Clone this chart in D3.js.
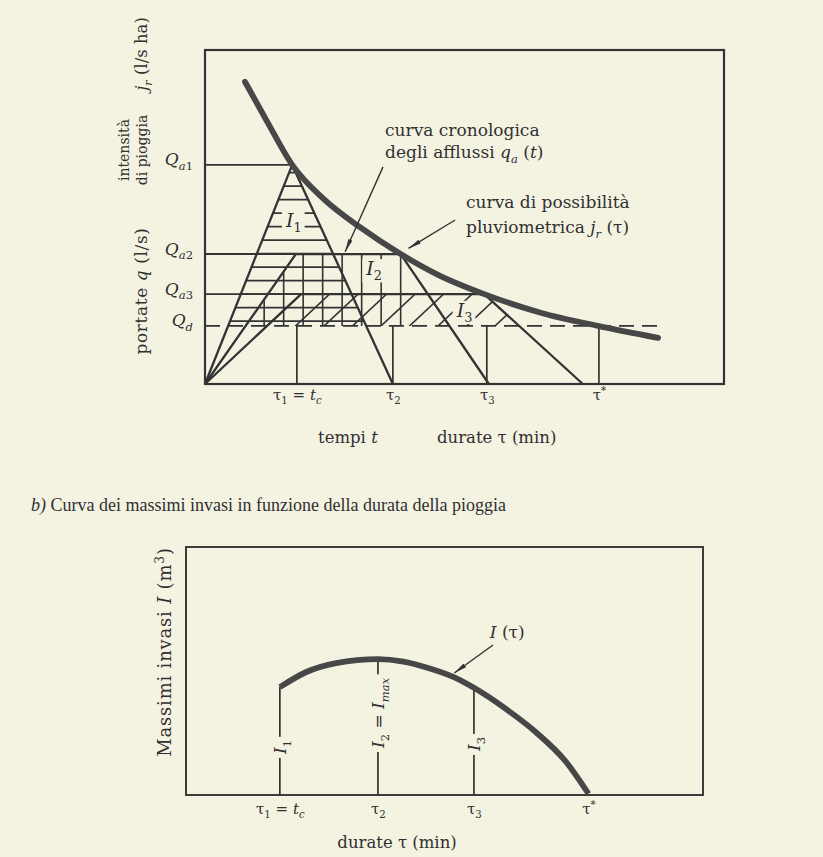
<!DOCTYPE html>
<html>
<head>
<meta charset="utf-8">
<script src="https://cdn.jsdelivr.net/npm/d3@7"></script>
<style>
  body { margin: 0; background: #f4f3e2; }
  svg text { font-family: "DejaVu Serif", serif; fill: #303030; }
</style>
</head>
<body>
<script>
// ---- data (durations in min, flows / volumes in arbitrary units) ----
var tauLabels = ["τ_{1} = *t*_{*c*}", "τ_{2}", "τ_{3}", "τ^{\\*}"];
var tauValues = [17.7, 36.2, 54.3, 75.9];

var qLabels = ["*Q*_{*a*1}", "*Q*_{*a*2}", "*Q*_{*a*3}", "*Q*_{*d*}"];
var qValues = [65.6, 38.9, 26.9, 17.4];

// curva di possibilità pluviometrica j_r(τ)
var rainCurve = [[7.7, 90.5], [12, 78.5], [16.8, 65.6], [23, 55.2], [30, 46.8], [37.7, 38.9],
                 [45, 32.6], [53.8, 26.9], [65, 21.2], [75.7, 17.4], [87.3, 13.8]];

// idrogrammi di afflusso q_a(t) per le durate τ1, τ2, τ3
var hydro1 = [[0, 0], [16.8, 65.6], [36.2, 0]];
var hydro2 = [[0, 0], [17.5, 38.9], [37.7, 38.9], [54.7, 0]];
var hydro3 = [[0, 0], [18.5, 26.9], [53.8, 26.9], [72.8, 0]];

// curva dei massimi invasi I(τ)
var volumeCurve = [[17.7, 43.5], [22.7, 49.6], [28.3, 53.2], [36.2, 54.8], [41, 53.8], [46, 51.0],
                   [50.4, 47.6], [54.3, 43.2], [59.8, 35.5], [66, 25.3], [71.5, 13.8], [75.9, 0.5]];
var volumeAtTau = [43.5, 54.8, 43.2];
var volumeLabels = ["*I*_{1}", "*I*_{2} = *I*_{*max*}", "*I*_{3}"];

var ink = "#333333";
var bg = "#f4f3e2";

var svg = d3.select("body").append("svg").attr("width", 823).attr("height", 857);
svg.append("rect").attr("width", 823).attr("height", 857).attr("fill", bg);
var defs = svg.append("defs");
defs.append("marker")
    .attr("id", "arrow")
    .attr("viewBox", "0 0 13 6")
    .attr("refX", 13).attr("refY", 3)
    .attr("markerWidth", 13).attr("markerHeight", 6)
    .attr("markerUnits", "userSpaceOnUse")
    .attr("orient", "auto")
  .append("path")
    .attr("d", "M0,0.8L13,3L0,5.2Z")
    .attr("fill", ink);

// tiny markup: *italic*, _{sub}, ^{sup}, \x literal
function rich(sel, str, size) {
  var segs = [], it = false, shift = 0, buf = "";
  function push() { if (buf) segs.push({t: buf, it: it, shift: shift}); buf = ""; }
  for (var i = 0; i < str.length; i++) {
    var c = str[i];
    if (c === "\\") { buf += str[++i]; }
    else if (c === "*") { push(); it = !it; }
    else if ((c === "_" || c === "^") && str[i + 1] === "{") { push(); shift = c === "_" ? 1 : -1; i++; }
    else if (c === "}" && shift) { push(); shift = 0; }
    else buf += c;
  }
  push();
  var cur = 0;
  segs.forEach(function(s) {
    var target = s.shift > 0 ? size * 0.28 : s.shift < 0 ? -size * 0.4 : 0;
    sel.append("tspan").text(s.t)
       .attr("dy", target - cur)
       .attr("font-size", s.shift ? size * 0.68 : size)
       .attr("font-style", s.it ? "italic" : "normal");
    cur = target;
  });
  sel.attr("font-size", size);
  return sel;
}

// put a background-coloured patch behind a label so the hatching is broken around it
function knockout(textSel, pad) {
  var b = textSel.node().getBBox();
  d3.select(textSel.node().parentNode).insert("rect", function() { return textSel.node(); })
    .attr("x", b.x - pad).attr("y", b.y + 2).attr("width", b.width + 2 * pad).attr("height", b.height - 3)
    .attr("fill", bg);
}

// =================== a) top chart ===================
var x = d3.scaleLinear().domain([0, 100]).range([205, 724]);
var y = d3.scaleLinear().domain([0, 100]).range([384, 50]);
var gTop = svg.append("g");

function pts(arr) { return arr.map(function(p) { return [x(p[0]), y(p[1])]; }).join(" "); }

defs.append("clipPath").attr("id", "band")
  .append("rect").attr("x", x(0)).attr("y", y(100)).attr("width", x(100) - x(0)).attr("height", y(qValues[3]) - y(100));
[hydro1, hydro2, hydro3].forEach(function(h, i) {
  defs.append("clipPath").attr("id", "hc" + i).append("polygon").attr("points", pts(h));
});

function hatch(i) {
  return gTop.append("g").attr("clip-path", "url(#band)")
            .append("g").attr("clip-path", "url(#hc" + i + ")")
            .attr("stroke", ink).attr("stroke-width", 1.6);
}

// I1: horizontal hatching
var h1 = hatch(0);
h1.selectAll("line").data(d3.range(-20, 4)).join("line")
  .attr("x1", x(0)).attr("x2", x(100))
  .attr("y1", function(k) { return y(qValues[2]) + k * 13.5; })
  .attr("y2", function(k) { return y(qValues[2]) + k * 13.5; });

// I2: vertical hatching
var h2 = hatch(1);
h2.selectAll("line").data(d3.range(0, 12)).join("line")
  .attr("x1", function(k) { return x(hydro2[2][0]) - k * 19.5; })
  .attr("x2", function(k) { return x(hydro2[2][0]) - k * 19.5; })
  .attr("y1", y(0)).attr("y2", y(100));

// I3: oblique hatching parallel to the rising limb
var h3 = hatch(2);
var dxr = x(hydro3[1][0]) - x(0), dyr = y(hydro3[1][1]) - y(0);
h3.selectAll("line").data(d3.range(0, 14)).join("line")
  .attr("x1", function(k) { return x(0) + k * 28.5; })
  .attr("y1", y(0))
  .attr("x2", function(k) { return x(0) + k * 28.5 + 1.3 * dxr; })
  .attr("y2", y(0) + 1.3 * dyr);

// Q levels up to the rain curve
var qEnds = [hydro1[1][0], hydro2[2][0], hydro3[2][0]];
gTop.selectAll(".qline").data(qEnds).join("line")
  .attr("x1", x(0)).attr("x2", function(d) { return x(d); })
  .attr("y1", function(d, i) { return y(qValues[i]); })
  .attr("y2", function(d, i) { return y(qValues[i]); })
  .attr("stroke", ink).attr("stroke-width", 1.9);

// Q_d dashed
gTop.append("line")
  .attr("x1", x(0)).attr("x2", x(rainCurve[rainCurve.length - 1][0]))
  .attr("y1", y(qValues[3])).attr("y2", y(qValues[3]))
  .attr("stroke", ink).attr("stroke-width", 1.9).attr("stroke-dasharray", "15,8");

// durations: verticals from Q_d down to the axis
gTop.selectAll(".tline").data(tauValues).join("line")
  .attr("x1", function(d) { return x(d); }).attr("x2", function(d) { return x(d); })
  .attr("y1", y(qValues[3])).attr("y2", y(0))
  .attr("stroke", ink).attr("stroke-width", 1.7);

// hydrographs
var line = d3.line().x(function(d) { return x(d[0]); }).y(function(d) { return y(d[1]); });
gTop.selectAll(".hydro").data([hydro1, hydro2, hydro3]).join("path")
  .attr("d", line).attr("fill", "none").attr("stroke", ink).attr("stroke-width", 2.3);

// region labels
[["*I*_{1}", 17.1, 49.1], ["*I*_{2}", 32.6, 34.7], ["*I*_{3}", 50.0, 22.2]].forEach(function(l) {
  var t = gTop.append("text").attr("x", x(l[1])).attr("y", y(l[2]) + 7).attr("text-anchor", "middle");
  rich(t, l[0], 19);
  knockout(t, 3);
});

// rain curve
gTop.append("path").datum(rainCurve)
  .attr("d", line.curve(d3.curveMonotoneX))
  .attr("fill", "none").attr("stroke", "#474747").attr("stroke-width", 5.8).attr("stroke-linecap", "round");
line.curve(d3.curveLinear);

// frame
gTop.append("rect").attr("x", x(0)).attr("y", y(100)).attr("width", x(100) - x(0)).attr("height", y(0) - y(100))
  .attr("fill", "none").attr("stroke", ink).attr("stroke-width", 2.2);

// axes with the symbolic tick labels
var gx = gTop.append("g").attr("transform", "translate(0," + y(0) + ")")
  .call(d3.axisBottom(x).tickValues(tauValues).tickSize(0).tickFormat(""));
gx.select(".domain").remove();
gx.selectAll(".tick text").each(function(d, i) {
  rich(d3.select(this).attr("y", 16).attr("dy", null), tauLabels[i], 15);
});

var gy = gTop.append("g").attr("transform", "translate(" + x(0) + ",0)")
  .call(d3.axisLeft(y).tickValues(qValues).tickSize(0).tickPadding(12).tickFormat(""));
gy.select(".domain").remove();
gy.selectAll(".tick text").each(function(d, i) {
  rich(d3.select(this).attr("dy", 6), qLabels[i], 17);
});

// axis titles
rich(gTop.append("text").attr("x", 318).attr("y", 443), "tempi *t*", 16.5);
rich(gTop.append("text").attr("x", 437).attr("y", 443), "durate τ (min)", 16.5);
rich(gTop.append("text").attr("transform", "translate(147,291) rotate(-90)").attr("text-anchor", "middle")
       .style("letter-spacing", "0.6px"), "portate *q* (l/s)", 17);
rich(gTop.append("text").attr("transform", "translate(129,150) rotate(-90)").attr("text-anchor", "middle"),
     "intensità", 14);
rich(gTop.append("text").attr("transform", "translate(147,150) rotate(-90)").attr("text-anchor", "middle"),
     "di pioggia", 14);
rich(gTop.append("text").attr("transform", "translate(147,54) rotate(-90)").attr("text-anchor", "middle"),
     "*j*_{*r*} (l/s ha)", 16.5);

// annotations
rich(gTop.append("text").attr("x", x(34.7)).attr("y", y(74.4)), "curva cronologica", 17);
rich(gTop.append("text").attr("x", x(34.7)).attr("y", y(67.7)), "degli afflussi *q*_{*a*} (*t*)", 17);
rich(gTop.append("text").attr("x", x(50.3)).attr("y", y(52.7)), "curva di possibilità", 17);
rich(gTop.append("text").attr("x", x(50.3)).attr("y", y(45.2)), "pluviometrica *j*_{*r*} (τ)", 17);

[[[34.3, 65.0], [27.0, 39.6]], [[48.2, 49.1], [39.2, 40.6]]].forEach(function(a) {
  gTop.append("line")
    .attr("x1", x(a[0][0])).attr("y1", y(a[0][1])).attr("x2", x(a[1][0])).attr("y2", y(a[1][1]))
    .attr("stroke", ink).attr("stroke-width", 1.4).attr("marker-end", "url(#arrow)");
});

// caption
rich(svg.append("text").attr("x", 31).attr("y", 511).style("font-family", "'Liberation Serif', serif"),
     "*b)* Curva dei massimi invasi in funzione della durata della pioggia", 18);

// =================== b) bottom chart ===================
var xb = d3.scaleLinear().domain([0, 97.5]).range([186, 703]);
var yb = d3.scaleLinear().domain([0, 100]).range([795, 547]);
var gBot = svg.append("g");

gBot.append("rect").attr("x", xb(0)).attr("y", yb(100)).attr("width", xb(97.5) - xb(0)).attr("height", yb(0) - yb(100))
  .attr("fill", "none").attr("stroke", ink).attr("stroke-width", 1.9);

var vg = gBot.selectAll(".vol").data(volumeAtTau).join("g");
vg.append("line")
  .attr("x1", function(d, i) { return xb(tauValues[i]); }).attr("x2", function(d, i) { return xb(tauValues[i]); })
  .attr("y1", yb(0)).attr("y2", function(d) { return yb(d); })
  .attr("stroke", ink).attr("stroke-width", 1.7);
var volPos = [19.4, 33.1, 20.6];
vg.each(function(d, i) {
  var g = d3.select(this).append("g")
    .attr("transform", "translate(" + (xb(tauValues[i]) + 6) + "," + yb(volPos[i]) + ") rotate(-90)");
  var t = g.append("text").attr("text-anchor", "middle");
  rich(t, volumeLabels[i], 17);
  knockout(t, 3);
});

var lineB = d3.line().x(function(d) { return xb(d[0]); }).y(function(d) { return yb(d[1]); })
  .curve(d3.curveMonotoneX);
gBot.append("path").datum(volumeCurve).attr("d", lineB)
  .attr("fill", "none").attr("stroke", "#474747").attr("stroke-width", 5.8).attr("stroke-linecap", "butt");

var gxb = gBot.append("g").attr("transform", "translate(0," + yb(0) + ")")
  .call(d3.axisBottom(xb).tickValues(tauValues).tickSize(0).tickFormat(""));
gxb.select(".domain").remove();
gxb.selectAll(".tick text").each(function(d, i) {
  rich(d3.select(this).attr("y", 19).attr("dy", null), tauLabels[i], 15);
});

rich(gBot.append("text").attr("x", xb(39.8)).attr("y", 848).attr("text-anchor", "middle"), "durate τ  (min)", 16.5);
rich(gBot.append("text").attr("transform", "translate(171,652) rotate(-90)").attr("text-anchor", "middle")
       .style("letter-spacing", "0.8px"), "Massimi invasi *I* (m^{3})", 18);

rich(gBot.append("text").attr("x", xb(57.3)).attr("y", yb(63.3)), "*I* (τ)", 17);
gBot.append("line")
  .attr("x1", xb(57.9)).attr("y1", yb(60.5)).attr("x2", xb(50.6)).attr("y2", yb(49.2))
  .attr("stroke", ink).attr("stroke-width", 1.4).attr("marker-end", "url(#arrow)");
</script>
</body>
</html>
